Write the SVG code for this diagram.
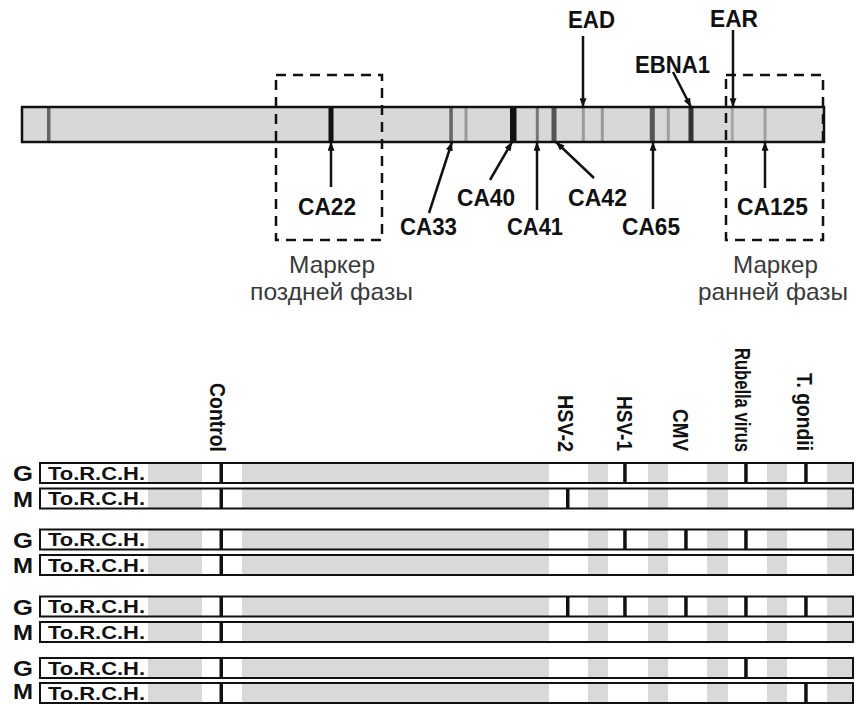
<svg xmlns="http://www.w3.org/2000/svg" xmlns:xlink="http://www.w3.org/1999/xlink" width="865" height="704" viewBox="0 0 865 704">
<defs>
<style>
.lbl{font-family:"Liberation Sans",Arial,sans-serif;font-weight:bold;font-size:23px;fill:#111;text-anchor:middle}
.mk{font-family:"Liberation Sans",Arial,sans-serif;font-size:24px;fill:#3a3a3a;text-anchor:middle}
.vl{font-family:"Liberation Sans",Arial,sans-serif;font-weight:bold;font-size:22px;fill:#111;text-anchor:end}
.gm{font-family:"Liberation Sans",Arial,sans-serif;font-weight:bold;font-size:22px;fill:#111}
.tr{font-family:"Liberation Sans",Arial,sans-serif;font-weight:bold;font-size:19px;fill:#111}
.arr{stroke:#111;stroke-width:2.5;fill:none;marker-end:url(#ah)}
.box{fill:none;stroke:#111;stroke-width:2.5;stroke-dasharray:10 7}
.g{fill:#d9d9d9}
.ln{fill:#111}
</style>
<marker id="ah" viewBox="0 0 10 8" refX="10" refY="4" markerWidth="9" markerHeight="7" markerUnits="userSpaceOnUse" orient="auto">
<path d="M0,0 L10,4 L0,8 z" fill="#111"/>
</marker>
<g id="strip">
<rect x="40" y="0" width="813" height="20" fill="#fff"/>
<rect class="g" x="148" y="0" width="54" height="20"/>
<rect class="g" x="242" y="0" width="307" height="20"/>
<rect class="g" x="588" y="0" width="20" height="20"/>
<rect class="g" x="648" y="0" width="20" height="20"/>
<rect class="g" x="707" y="0" width="21" height="20"/>
<rect class="g" x="767" y="0" width="20" height="20"/>
<rect class="g" x="827" y="0" width="26" height="20"/>
<rect class="ln" x="219.5" y="0" width="3.5" height="20"/>
<text class="tr" x="48" y="16.5" textLength="97" lengthAdjust="spacingAndGlyphs">To.R.C.H.</text>
<rect x="40" y="0" width="813" height="20" fill="none" stroke="#111" stroke-width="2"/>
</g>
</defs>
<rect width="865" height="704" fill="#fff"/>

<g id="top-strip">
<rect x="22" y="107" width="802" height="35" fill="#d8d8d8"/>
<rect x="47" y="108" width="3.5" height="33" fill="#666"/>
<rect x="328.5" y="108" width="5" height="33" fill="#111"/>
<rect x="449.3" y="108" width="3.5" height="33" fill="#666"/>
<rect x="464.5" y="108" width="3" height="33" fill="#999"/>
<rect x="510" y="108" width="6.5" height="33" fill="#111"/>
<rect x="535.8" y="108" width="3" height="33" fill="#777"/>
<rect x="551.5" y="108" width="5" height="33" fill="#555"/>
<rect x="581.8" y="108" width="3" height="33" fill="#9a9a9a"/>
<rect x="600.8" y="108" width="3" height="33" fill="#9a9a9a"/>
<rect x="649.8" y="108" width="5" height="33" fill="#555"/>
<rect x="666.8" y="108" width="3" height="33" fill="#a0a0a0"/>
<rect x="688.5" y="108" width="5" height="33" fill="#333"/>
<rect x="730.8" y="108" width="3" height="33" fill="#a8a8a8"/>
<rect x="763.5" y="108" width="3" height="33" fill="#a0a0a0"/>
<rect x="22" y="107" width="802" height="35" fill="none" stroke="#111" stroke-width="2.5"/>
</g>

<g id="late-marker">
<rect class="box" x="276" y="75" width="106" height="165"/>
<text class="mk" x="332" y="273" textLength="86" lengthAdjust="spacingAndGlyphs">Маркер</text>
<text class="mk" x="331.5" y="300" textLength="163" lengthAdjust="spacingAndGlyphs">поздней фазы</text>
</g>
<g id="early-marker">
<rect class="box" x="726" y="75" width="97" height="165"/>
<text class="mk" x="775.5" y="273" textLength="85" lengthAdjust="spacingAndGlyphs">Маркер</text>
<text class="mk" x="773" y="300" textLength="150" lengthAdjust="spacingAndGlyphs">ранней фазы</text>
</g>

<g id="labels">
<text class="lbl" x="591.5" y="28" textLength="47" lengthAdjust="spacingAndGlyphs">EAD</text>
<text class="lbl" x="672.5" y="73" textLength="75" lengthAdjust="spacingAndGlyphs">EBNA1</text>
<text class="lbl" x="734" y="27" textLength="48" lengthAdjust="spacingAndGlyphs">EAR</text>
<text class="lbl" x="327" y="215" textLength="58" lengthAdjust="spacingAndGlyphs">CA22</text>
<text class="lbl" x="428.5" y="235" textLength="57" lengthAdjust="spacingAndGlyphs">CA33</text>
<text class="lbl" x="486" y="206" textLength="58" lengthAdjust="spacingAndGlyphs">CA40</text>
<text class="lbl" x="535" y="235" textLength="56" lengthAdjust="spacingAndGlyphs">CA41</text>
<text class="lbl" x="597.5" y="206" textLength="59" lengthAdjust="spacingAndGlyphs">CA42</text>
<text class="lbl" x="651" y="235" textLength="58" lengthAdjust="spacingAndGlyphs">CA65</text>
<text class="lbl" x="772.5" y="215" textLength="71" lengthAdjust="spacingAndGlyphs">CA125</text>
</g>

<g id="connectors">
<line class="arr" x1="583" y1="36" x2="583" y2="107"/>
<line class="arr" x1="673" y1="72" x2="691" y2="107"/>
<line class="arr" x1="733" y1="30" x2="733" y2="107"/>
<line class="arr" x1="331" y1="187" x2="331" y2="142"/>
<line class="arr" x1="429" y1="213" x2="452" y2="142"/>
<line class="arr" x1="490" y1="180" x2="512" y2="142"/>
<line class="arr" x1="537" y1="210" x2="537" y2="142"/>
<line class="arr" x1="594" y1="178" x2="556" y2="142"/>
<line class="arr" x1="653" y1="209" x2="653" y2="142"/>
<line class="arr" x1="765" y1="188" x2="765" y2="142"/>
</g>

<g id="column-labels">
<text class="vl" transform="translate(210,452) rotate(90)" textLength="69" lengthAdjust="spacingAndGlyphs">Control</text>
<text class="vl" transform="translate(558,452) rotate(90)" textLength="57" lengthAdjust="spacingAndGlyphs">HSV-2</text>
<text class="vl" transform="translate(617,451) rotate(90)" textLength="55" lengthAdjust="spacingAndGlyphs">HSV-1</text>
<text class="vl" transform="translate(673,451) rotate(90)" textLength="42" lengthAdjust="spacingAndGlyphs">CMV</text>
<text class="vl" transform="translate(735,452) rotate(90)" textLength="104" lengthAdjust="spacingAndGlyphs">Rubella virus</text>
<text class="vl" transform="translate(797,451) rotate(90)" textLength="78" lengthAdjust="spacingAndGlyphs">T. gondii</text>
</g>

<g id="row1">
<text class="gm" x="13" y="481" textLength="20" lengthAdjust="spacingAndGlyphs">G</text>
<use xlink:href="#strip" y="463"/>
<rect class="ln" x="623.2" y="463" width="3.5" height="20"/>
<rect class="ln" x="744.2" y="463" width="3.5" height="20"/>
<rect class="ln" x="804.2" y="463" width="3.5" height="20"/>
</g>
<g id="row2">
<text class="gm" x="13" y="506.5" textLength="20" lengthAdjust="spacingAndGlyphs">M</text>
<use xlink:href="#strip" y="488.5"/>
<rect class="ln" x="566" y="488.5" width="3.5" height="20"/>
</g>
<g id="row3">
<text class="gm" x="13" y="547.5" textLength="20" lengthAdjust="spacingAndGlyphs">G</text>
<use xlink:href="#strip" y="529.5"/>
<rect class="ln" x="623.2" y="529.5" width="3.5" height="20"/>
<rect class="ln" x="684.2" y="529.5" width="3.5" height="20"/>
<rect class="ln" x="744.2" y="529.5" width="3.5" height="20"/>
</g>
<g id="row4">
<text class="gm" x="13" y="573" textLength="20" lengthAdjust="spacingAndGlyphs">M</text>
<use xlink:href="#strip" y="555"/>
</g>
<g id="row5">
<text class="gm" x="13" y="614.5" textLength="20" lengthAdjust="spacingAndGlyphs">G</text>
<use xlink:href="#strip" y="596.5"/>
<rect class="ln" x="566" y="596.5" width="3.5" height="20"/>
<rect class="ln" x="623.2" y="596.5" width="3.5" height="20"/>
<rect class="ln" x="684.2" y="596.5" width="3.5" height="20"/>
<rect class="ln" x="744.2" y="596.5" width="3.5" height="20"/>
<rect class="ln" x="804.2" y="596.5" width="3.5" height="20"/>
</g>
<g id="row6">
<text class="gm" x="13" y="640" textLength="20" lengthAdjust="spacingAndGlyphs">M</text>
<use xlink:href="#strip" y="622"/>
</g>
<g id="row7">
<text class="gm" x="13" y="676" textLength="20" lengthAdjust="spacingAndGlyphs">G</text>
<use xlink:href="#strip" y="658"/>
<rect class="ln" x="744.2" y="658" width="3.5" height="20"/>
</g>
<g id="row8">
<text class="gm" x="13" y="699" font-size="21" textLength="20" lengthAdjust="spacingAndGlyphs">M</text>
<use xlink:href="#strip" y="683"/>
<rect class="ln" x="804.2" y="683" width="3.5" height="20"/>
</g>
</svg>
